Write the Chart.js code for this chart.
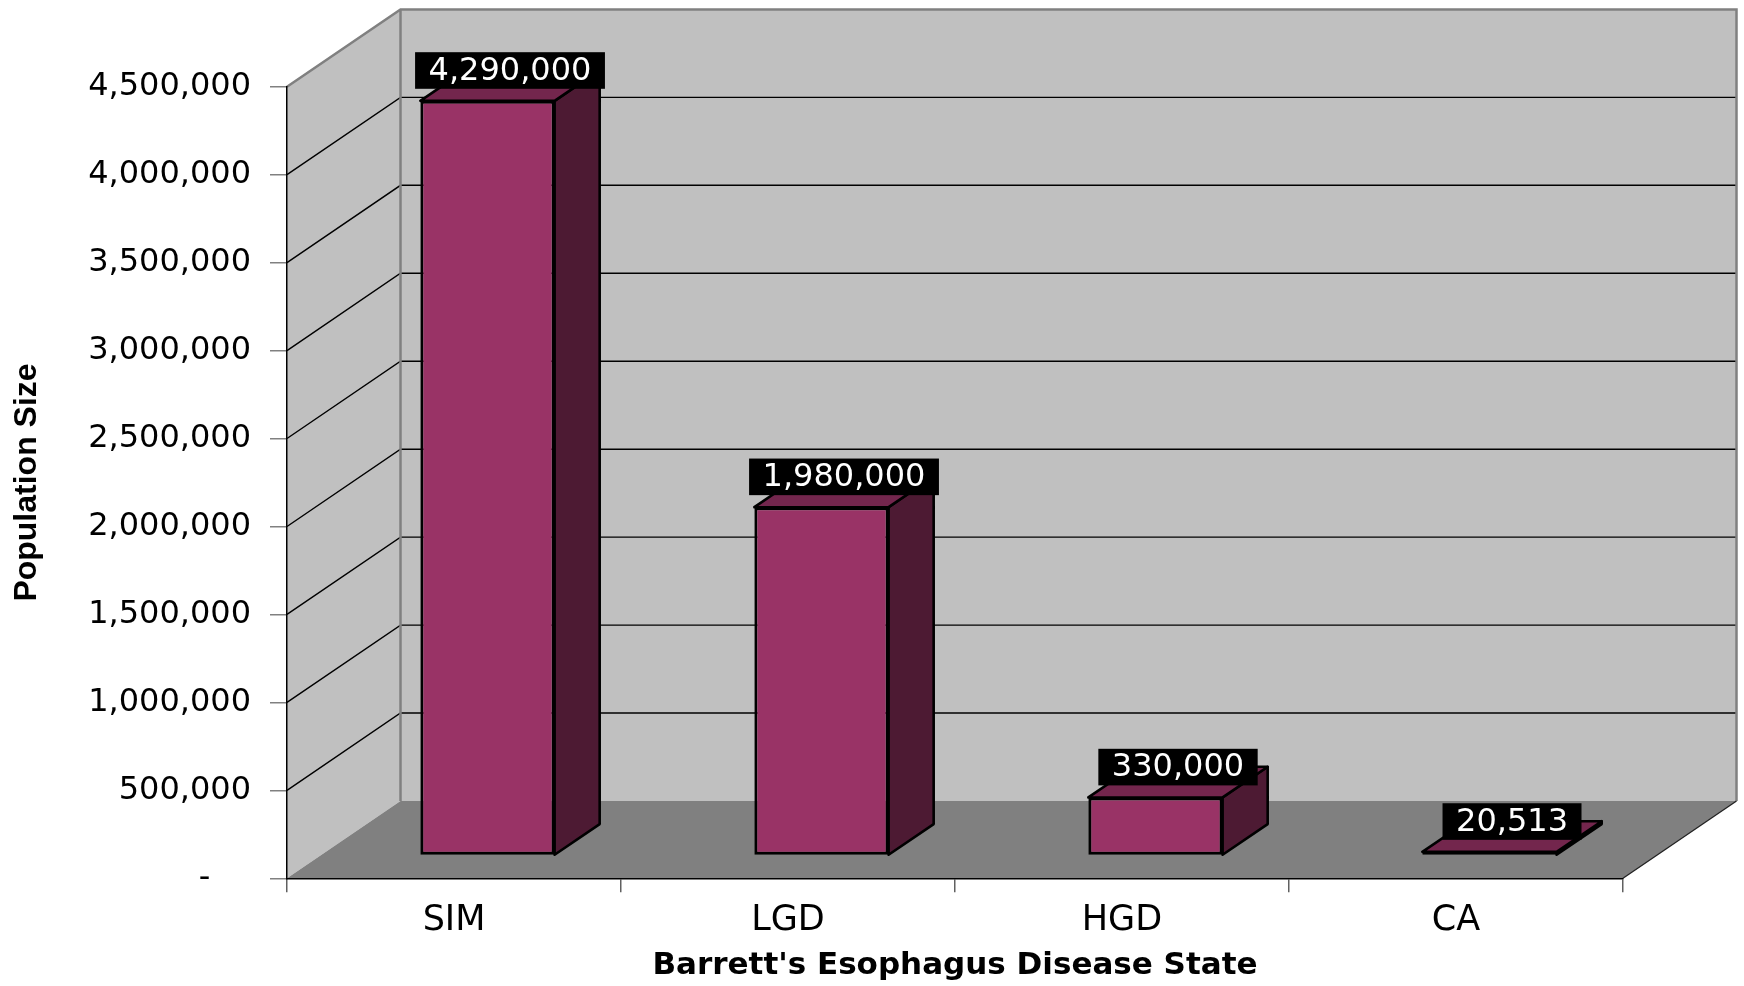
<!DOCTYPE html>
<html>
<head>
<meta charset="utf-8">
<script src="https://cdn.jsdelivr.net/npm/chart.js@4.4.1/dist/chart.umd.min.js"></script>
<style>
  html, body { margin: 0; padding: 0; background: #fff; }
  #wrap { width: 1744px; height: 986px; }
</style>
</head>
<body>
<div id="wrap"><canvas id="chart"></canvas></div>
<script>
const categories = ['SIM', 'LGD', 'HGD', 'CA'];
const population = [4290000, 1980000, 330000, 20513];
const yTickValues = [0, 500000, 1000000, 1500000, 2000000, 2500000, 3000000, 3500000, 4000000, 4500000];
const xTitle = "Barrett's Esophagus Disease State";
const yTitle = 'Population Size';

// depth of the 3D box in px, and where the columns sit inside it
const DEPTH = { x: 113.5, y: -77.3 };
const BAR_FRONT = 0.295, BAR_DEPTH = 0.397;
const C = { wall: '#c0c0c0', floor: '#808080', edge: '#808080', front: '#993366', top: '#73264d', side: '#4d1a33' };
const fmt = (v) => v.toLocaleString('en-US');

function poly(ctx, pts, fill) {
    ctx.beginPath();
    pts.forEach((p, i) => i ? ctx.lineTo(p[0], p[1]) : ctx.moveTo(p[0], p[1]));
    ctx.closePath();
    ctx.fillStyle = fill; ctx.fill();
    ctx.stroke();
}

const box3d = {
    id: 'box3d',
    beforeDraw(chart) {
        const { ctx, chartArea: a, scales: { y } } = chart;
        const dx = DEPTH.x, dy = DEPTH.y;
        ctx.save();
        // walls + floor
        ctx.fillStyle = C.wall;
        ctx.beginPath();
        ctx.moveTo(a.left, a.top); ctx.lineTo(a.left + dx, a.top + dy);
        ctx.lineTo(a.left + dx, a.bottom + dy); ctx.lineTo(a.left, a.bottom);
        ctx.closePath(); ctx.fill();
        ctx.fillRect(a.left + dx, a.top + dy, a.right - a.left, a.bottom - a.top);
        ctx.fillStyle = C.floor;
        ctx.beginPath();
        ctx.moveTo(a.left, a.bottom); ctx.lineTo(a.right, a.bottom);
        ctx.lineTo(a.right + dx, a.bottom + dy); ctx.lineTo(a.left + dx, a.bottom + dy);
        ctx.closePath(); ctx.fill();

        // gridlines on side wall and back wall
        ctx.strokeStyle = '#000'; ctx.lineWidth = 1.4;
        yTickValues.forEach(v => {
            if (v <= y.min || v >= y.max) return;
            const py = y.getPixelForValue(v);
            ctx.beginPath();
            ctx.moveTo(a.left, py); ctx.lineTo(a.left + dx, py + dy); ctx.lineTo(a.right + dx, py + dy);
            ctx.stroke();
        });

        // outline of the box
        ctx.strokeStyle = C.edge; ctx.lineWidth = 2.5;
        ctx.beginPath();
        ctx.moveTo(a.left, a.top); ctx.lineTo(a.left + dx, a.top + dy);
        ctx.lineTo(a.right + dx, a.top + dy); ctx.lineTo(a.right + dx, a.bottom + dy);
        ctx.moveTo(a.left + dx, a.top + dy); ctx.lineTo(a.left + dx, a.bottom + dy);
        ctx.stroke();
        ctx.strokeStyle = '#222'; ctx.lineWidth = 1.3;
        ctx.beginPath();
        ctx.moveTo(a.right, a.bottom); ctx.lineTo(a.right + dx, a.bottom + dy);
        ctx.stroke();
        ctx.restore();
    },
    beforeDatasetsDraw(chart) {
        chart.ctx.save();
        chart.ctx.translate(DEPTH.x * BAR_FRONT, DEPTH.y * BAR_FRONT);
    },
    afterDatasetsDraw(chart) {
        const ctx = chart.ctx;
        ctx.restore();
        const fx = DEPTH.x * BAR_FRONT, fy = DEPTH.y * BAR_FRONT;
        const bx = DEPTH.x * BAR_DEPTH, by = DEPTH.y * BAR_DEPTH;
        const meta = chart.getDatasetMeta(0);
        ctx.save();
        ctx.strokeStyle = '#000'; ctx.lineWidth = 2.6; ctx.lineJoin = 'round';
        meta.data.forEach((bar) => {
            const x0 = bar.x - bar.width / 2 + fx, x1 = bar.x + bar.width / 2 + fx;
            const yt = bar.y + fy, yb = bar.base + fy;
            poly(ctx, [[x1, yt], [x1 + bx, yt + by], [x1 + bx, yb + by], [x1, yb]], C.side);
            poly(ctx, [[x0, yt], [x1, yt], [x1 + bx, yt + by], [x0 + bx, yt + by]], C.top);
        });

        // value labels, black boxes
        ctx.font = '32px "DejaVu Sans"';
        ctx.textAlign = 'center'; ctx.textBaseline = 'middle';
        meta.data.forEach((bar, i) => {
            const cx = bar.x + fx + bx / 2, cy = bar.y + fy + by / 2 - 15;
            const txt = fmt(population[i]);
            const w = ctx.measureText(txt).width + 27;
            ctx.fillStyle = '#000';
            ctx.fillRect(cx - w / 2, cy - 18.3, w, 36.6);
            ctx.fillStyle = '#fff';
            ctx.fillText(txt, cx, cy + 1);
        });
        ctx.restore();
    }
};

new Chart(document.getElementById('chart'), {
    type: 'bar',
    data: {
        labels: categories,
        datasets: [{
            data: population,
            backgroundColor: C.front,
            borderColor: '#000',
            borderWidth: 3,
            borderSkipped: false,
            categoryPercentage: 1,
            barPercentage: 0.402,
            clip: false
        }]
    },
    options: {
        responsive: true,
        maintainAspectRatio: false,
        devicePixelRatio: 1,
        animation: false,
        layout: { padding: { top: 86.7, right: 121, bottom: 0, left: 0 } },
        plugins: { legend: { display: false }, tooltip: { enabled: false } },
        scales: {
            x: {
                offset: true,
                grid: { drawOnChartArea: false, drawTicks: true, tickLength: 14, color: '#606060', lineWidth: 1.5, offset: true },
                border: { display: true, color: '#000', width: 1.5 },
                ticks: { color: '#000', padding: 8, maxRotation: 0, autoSkip: false, font: { family: 'DejaVu Sans', size: 35 } },
                title: { display: true, text: xTitle, color: '#000', padding: { top: 0, bottom: 1 },
                         font: { family: 'DejaVu Sans', size: 31, weight: 'bold' } },
                afterFit: (s) => { s.height = 107.7; }
            },
            y: {
                min: 0,
                max: 4500000,
                afterBuildTicks: (s) => { s.ticks = yTickValues.map(v => ({ value: v })); },
                grid: { drawOnChartArea: false, drawTicks: true, tickLength: 17, color: '#808080', lineWidth: 1.5 },
                border: { display: true, color: '#000', width: 1.5 },
                ticks: { color: '#000', padding: 19, font: { family: 'DejaVu Sans', size: 32 },
                         callback: (v) => v === 0 ? '-    ' : fmt(v) },
                title: { display: true, text: yTitle, color: '#000', padding: { top: 8, bottom: 0 },
                         font: { family: 'Liberation Sans', size: 32, weight: 'bold' } },
                afterFit: (s) => { s.width = 287; }
            }
        }
    },
    plugins: [box3d]
});
</script>
</body>
</html>
